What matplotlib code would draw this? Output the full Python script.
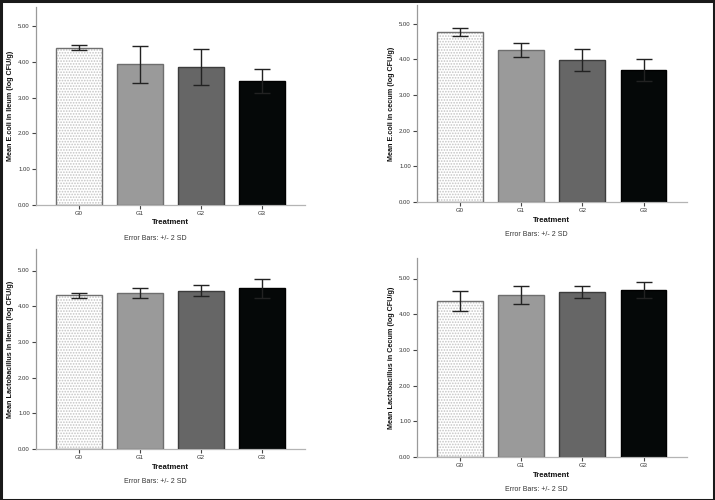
import matplotlib
matplotlib.use("Agg")
import matplotlib.pyplot as plt
from matplotlib.patches import Rectangle

plt.rcParams['font.family'] = ['Liberation Sans', 'DejaVu Sans']
plt.rcParams['hatch.linewidth'] = 0.8

groups = ["G0", "G1", "G2", "G3"]

ecoli_ileum = [4.40, 3.93, 3.86, 3.46]
ecoli_ileum_err = [0.07, 0.51, 0.50, 0.34]

ecoli_cecum = [4.76, 4.26, 3.97, 3.69]
ecoli_cecum_err = [0.12, 0.19, 0.31, 0.31]

lacto_ileum = [4.30, 4.37, 4.43, 4.50]
lacto_ileum_err = [0.07, 0.15, 0.15, 0.26]

lacto_cecum = [4.36, 4.54, 4.62, 4.67]
lacto_cecum_err = [0.28, 0.25, 0.18, 0.23]

ylabels = [
    "Mean E.coli in Ileum (log CFU/g)",
    "Mean E.coli in cecum (log CFU/g)",
    "Mean Lactobacillus in Ileum (log CFU/g)",
    "Mean Lactobacillus in Cecum (log CFU/g)",
]
yticks = [0, 1, 2, 3, 4, 5]
ytick_labels = ["0.00", "1.00", "2.00", "3.00", "4.00", "5.00"]

W, H = 715, 500
fig = plt.figure(figsize=(W / 100, H / 100), dpi=100)
fig.patch.set_facecolor("white")

# panel geometry in pixels: left, zero-line y, right, top, error-text offset, xlabel offset
panels = [
    (35.7, 204.7, 305.0, 6.7, 33.3, 18.0),
    (416.7, 202.0, 686.7, 5.0, 33.0, 18.0),
    (35.7, 449.0, 305.0, 249.0, 32.7, 18.7),
    (416.7, 457.0, 686.7, 258.0, 32.3, 18.3),
]
datasets = [
    (ecoli_ileum, ecoli_ileum_err),
    (ecoli_cecum, ecoli_cecum_err),
    (lacto_ileum, lacto_ileum_err),
    (lacto_cecum, lacto_cecum_err),
]

facecolors = ["white", "#9a9a9a", "#666666", "#050808"]
edgecolors = ["#707070", "#6e6e6e", "#3c3c3c", "#000000"]
px_per_unit = 35.7

for (l, b, r, t, eb_off, tr_off), (vals, errs), ylab in zip(panels, datasets, ylabels):
    ax = fig.add_axes([l / W, (H - b) / H, (r - l) / W, (b - t) / H])
    h_px = b - t
    w_px = r - l
    x = list(range(len(groups)))
    ax.bar(x, vals, width=0.75, color=facecolors, linewidth=0, zorder=1)
    ax.bar(x[:1], vals[:1], width=0.75, color="white", edgecolor="#c4c4c4",
           hatch="......", linewidth=0, zorder=2)
    ax.bar(x, vals, width=0.75, fill=False, edgecolor=edgecolors, linewidth=1.0, zorder=3)
    ax.errorbar(x, vals, yerr=errs, fmt="none", ecolor="#222222", elinewidth=1.0,
                capsize=6, capthick=1.0, zorder=4)

    ax.set_xlim(-0.705, 3.705)
    ax.set_ylim(0, h_px / px_per_unit)
    ax.set_xticks(x)
    ax.set_xticklabels(groups, fontsize=4.3, color="#333333")
    ax.set_yticks(yticks)
    ax.set_yticklabels(ytick_labels, fontsize=4.3, color="#333333")
    ax.tick_params(axis="both", length=3, width=0.8, color="#444444", pad=1.2)
    for s in ["top", "right"]:
        ax.spines[s].set_visible(False)
    ax.spines["left"].set_color("#9a9a9a")
    ax.spines["bottom"].set_color("#b4b4b4")
    ax.spines["left"].set_linewidth(0.9)
    ax.spines["bottom"].set_linewidth(0.9)

    ax.set_ylabel(ylab, fontsize=5.2, fontweight="bold", color="#111111")
    ax.yaxis.set_label_coords(-22.0 / w_px, 0.5)
    ax.set_xlabel("Treatment", fontsize=5.6, fontweight="bold", color="#111111", va="center")
    ax.xaxis.set_label_coords(0.5, -tr_off / h_px)
    ax.text(0.5 - 15.0 / w_px, -eb_off / h_px, "Error Bars: +/- 2 SD", transform=ax.transAxes,
            ha="center", va="center", fontsize=5, color="#333333")

fig.patches.append(Rectangle((0.5 / W, 0.5 / H), 1 - 1.5 / W, 1 - 1.5 / H, transform=fig.transFigure,
                             fill=False, edgecolor="#1a1a1a", linewidth=2.2, zorder=10))

fig.savefig("out.png", dpi=100, facecolor="white")
